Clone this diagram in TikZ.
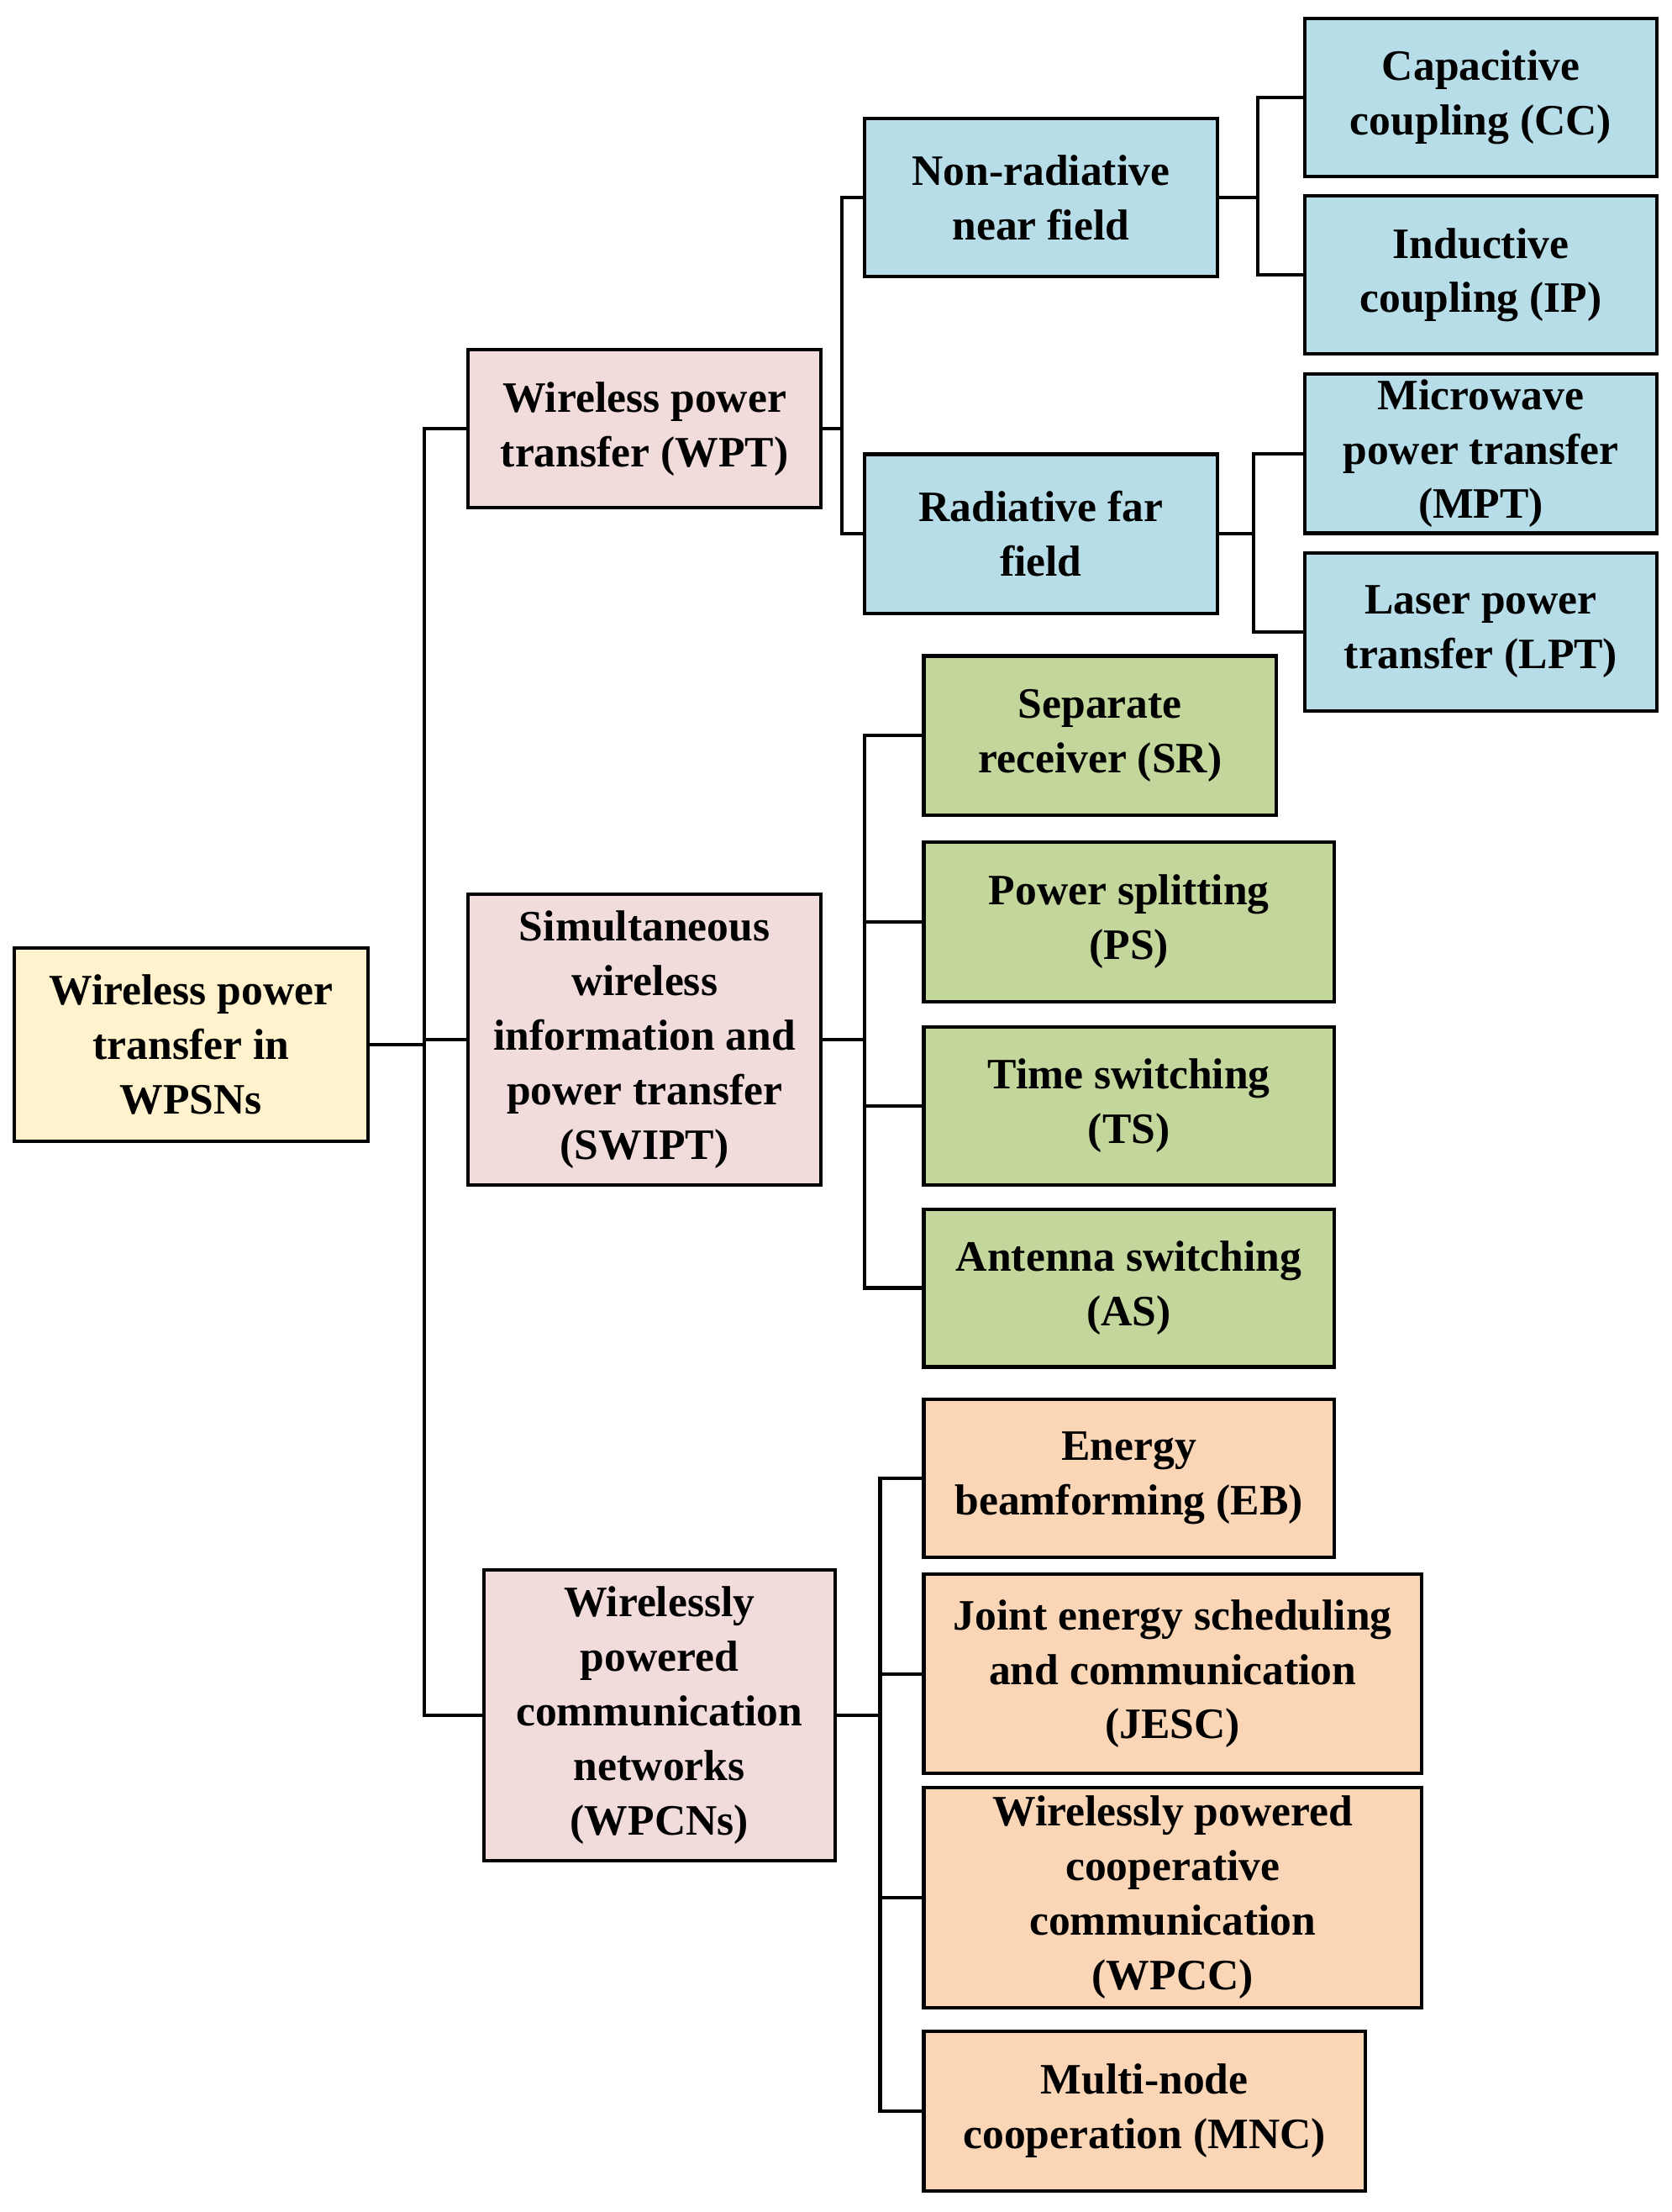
\documentclass[tikz,border=0pt]{standalone}
\usepackage{fontspec}
\setmainfont{Liberation Serif}
\begin{document}
\begin{tikzpicture}[x=0.02cm,y=-0.02cm,
 box/.style={draw=black,line width=1.4pt,align=center,inner sep=2pt,font=\bfseries\fontsize{17.5}{22}\selectfont},
 yel/.style={box,fill={rgb,255:red,255;green,242;blue,204}},
 pnk/.style={box,fill={rgb,255:red,242;green,220;blue,219}},
 blu/.style={box,fill={rgb,255:red,183;green,222;blue,232}},
 grn/.style={box,fill={rgb,255:red,195;green,214;blue,155}},
 org/.style={box,fill={rgb,255:red,250;green,213;blue,182}},
 ln/.style={line width=1.4pt}]
\useasboundingbox (0,0) rectangle (1185,1568);
\node[yel,minimum width=5.02cm,minimum height=2.74cm] (root) at (135.5,740.5) {Wireless power\\transfer in\\WPSNs};
\node[pnk,minimum width=5.0cm,minimum height=2.24cm] (wpt) at (457,304) {Wireless power\\transfer (WPT)};
\node[pnk,minimum width=5.0cm,minimum height=4.12cm] (swipt) at (457,737) {Simultaneous\\wireless\\information and\\power transfer\\(SWIPT)};
\node[pnk,minimum width=4.98cm,minimum height=4.12cm] (wpcn) at (467.5,1216) {Wirelessly\\powered\\communication\\networks\\(WPCNs)};
\node[blu,minimum width=5.0cm,minimum height=2.24cm] (nonrad) at (738,140) {Non-radiative\\near field};
\node[blu,minimum width=5.0cm,minimum height=2.26cm] (radfar) at (738,378.5) {Radiative far\\field};
\node[blu,minimum width=5.0cm,minimum height=2.24cm] (cc) at (1050,69) {Capacitive\\coupling (CC)};
\node[blu,minimum width=5.0cm,minimum height=2.24cm] (ip) at (1050,195) {Inductive\\coupling (IP)};
\node[blu,minimum width=5.0cm,minimum height=2.26cm] (mpt) at (1050,321.5) {Microwave\\power transfer\\(MPT)};
\node[blu,minimum width=5.0cm,minimum height=2.24cm] (lpt) at (1050,448) {Laser power\\transfer (LPT)};
\node[grn,minimum width=5.0cm,minimum height=2.26cm] (sr) at (780,521.5) {Separate\\receiver (SR)};
\node[grn,minimum width=5.82cm,minimum height=2.26cm] (ps) at (800.5,653.5) {Power splitting\\(PS)};
\node[grn,minimum width=5.82cm,minimum height=2.24cm] (ts) at (800.5,784) {Time switching\\(TS)};
\node[grn,minimum width=5.82cm,minimum height=2.24cm] (as) at (800.5,913) {Antenna switching\\(AS)};
\node[org,minimum width=5.82cm,minimum height=2.24cm] (eb) at (800.5,1048) {Energy\\beamforming (EB)};
\node[org,minimum width=7.06cm,minimum height=2.82cm] (jesc) at (831.5,1186.5) {Joint energy scheduling\\and communication\\(JESC)};
\node[org,minimum width=7.06cm,minimum height=3.12cm] (wpcc) at (831.5,1345) {Wirelessly powered\\cooperative\\communication\\(WPCC)};
\node[org,minimum width=6.26cm,minimum height=2.26cm] (mnc) at (811.5,1496.5) {Multi-node\\cooperation (MNC)};
\coordinate (j1) at (301,740.5);
\coordinate (j2) at (597,304);
\coordinate (j3) at (892,140);
\coordinate (j4) at (889,378.5);
\coordinate (j5) at (613,737);
\coordinate (j6) at (624,1216);
\draw[ln] (root.east) -- (j1);
\draw[ln] (wpt.west) -| (j1);
\draw[ln] (wpcn.west) -| (j1);
\draw[ln] (swipt.west) -- (swipt.west -| j1);
\draw[ln] (wpt.east) -- (j2);
\draw[ln] (nonrad.west) -| (j2);
\draw[ln] (radfar.west) -| (j2);
\draw[ln] (nonrad.east) -- (j3);
\draw[ln] (cc.west) -| (j3);
\draw[ln] (ip.west) -| (j3);
\draw[ln] (radfar.east) -- (j4);
\draw[ln] (mpt.west) -| (j4);
\draw[ln] (lpt.west) -| (j4);
\draw[ln] (swipt.east) -- (j5);
\draw[ln] (sr.west) -| (j5);
\draw[ln] (ps.west) -| (j5);
\draw[ln] (ts.west) -| (j5);
\draw[ln] (as.west) -| (j5);
\draw[ln] (wpcn.east) -- (j6);
\draw[ln] (eb.west) -| (j6);
\draw[ln] (jesc.west) -| (j6);
\draw[ln] (wpcc.west) -| (j6);
\draw[ln] (mnc.west) -| (j6);
\end{tikzpicture}
\end{document}
